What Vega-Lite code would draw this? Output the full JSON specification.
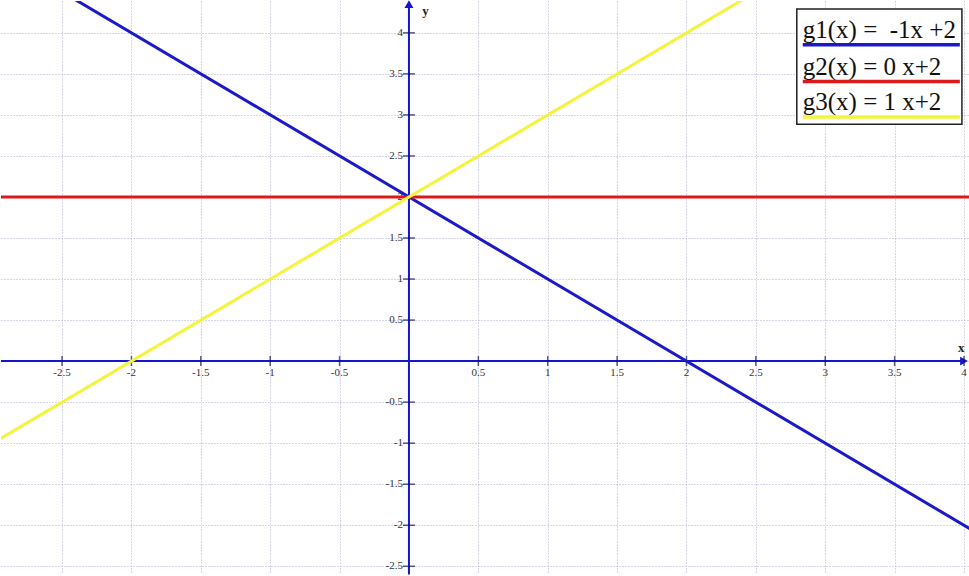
{
  "$schema": "https://vega.github.io/schema/vega-lite/v6.json",
  "width": 969,
  "height": 576,
  "autosize": {"type": "fit", "contains": "padding"},
  "padding": 0,
  "background": "white",
  "config": {"view": {"stroke": null}},
  "datasets": {
    "lines": [
      {"fn": "g1", "x": -3, "y": 5},
      {"fn": "g1", "x": 4.1, "y": -2.1},
      {"fn": "g2", "x": -3, "y": 2},
      {"fn": "g2", "x": 4.1, "y": 2},
      {"fn": "g3", "x": -3, "y": -1},
      {"fn": "g3", "x": 4.1, "y": 6.1}
    ],
    "axislines": [
      {"x": -2.94, "y": 0, "x2": 4.0, "y2": 0},
      {"x": 0, "y": -2.6, "x2": 0, "y2": 4.33}
    ],
    "arrows": [
      {"x": 4.0, "y": 0, "shape": "triangle-right"},
      {"x": 0, "y": 4.35, "shape": "triangle-up"}
    ],
    "xticks": [
      {"x": -2.5, "y": 0, "label": "-2.5"},
      {"x": -2, "y": 0, "label": "-2"},
      {"x": -1.5, "y": 0, "label": "-1.5"},
      {"x": -1, "y": 0, "label": "-1"},
      {"x": -0.5, "y": 0, "label": "-0.5"},
      {"x": 0.5, "y": 0, "label": "0.5"},
      {"x": 1, "y": 0, "label": "1"},
      {"x": 1.5, "y": 0, "label": "1.5"},
      {"x": 2, "y": 0, "label": "2"},
      {"x": 2.5, "y": 0, "label": "2.5"},
      {"x": 3, "y": 0, "label": "3"},
      {"x": 3.5, "y": 0, "label": "3.5"},
      {"x": 4, "y": 0, "label": "4"}
    ],
    "yticks": [
      {"x": 0, "y": -2.5, "label": "-2.5"},
      {"x": 0, "y": -2, "label": "-2"},
      {"x": 0, "y": -1.5, "label": "-1.5"},
      {"x": 0, "y": -1, "label": "-1"},
      {"x": 0, "y": -0.5, "label": "-0.5"},
      {"x": 0, "y": 0.5, "label": "0.5"},
      {"x": 0, "y": 1, "label": "1"},
      {"x": 0, "y": 1.5, "label": "1.5"},
      {"x": 0, "y": 2, "label": "2"},
      {"x": 0, "y": 2.5, "label": "2.5"},
      {"x": 0, "y": 3, "label": "3"},
      {"x": 0, "y": 3.5, "label": "3.5"},
      {"x": 0, "y": 4, "label": "4"}
    ],
    "axistitles": [
      {"x": 3.98, "y": 0.16, "label": "x"},
      {"x": 0.12, "y": 4.27, "label": "y"}
    ],
    "legendbox": [
      {"x": 2.795, "x2": 3.985, "y": 4.291, "y2": 2.885}
    ],
    "legend": [
      {"fn": "g1", "label": "g1(x) =\u00a0 -1x +2", "x": 2.838, "x2": 3.97, "y": 3.939, "uy": 3.855},
      {"fn": "g2", "label": "g2(x) = 0 x+2", "x": 2.838, "x2": 3.97, "y": 3.491, "uy": 3.406},
      {"fn": "g3", "label": "g3(x) = 1 x+2", "x": 2.838, "x2": 3.97, "y": 3.055, "uy": 2.975}
    ]
  },
  "encoding": {
    "x": {
      "field": "x",
      "type": "quantitative",
      "title": null,
      "scale": {"domain": [-2.94, 4.036], "nice": false, "zero": false},
      "axis": {
        "values": [-2.5, -2, -1.5, -1, -0.5, 0, 0.5, 1, 1.5, 2, 2.5, 3, 3.5, 4],
        "grid": true,
        "gridColor": "#aeaed6",
        "gridDash": [1, 2],
        "gridWidth": 1,
        "labels": false,
        "ticks": false,
        "domain": false
      }
    },
    "y": {
      "field": "y",
      "type": "quantitative",
      "title": null,
      "scale": {"domain": [-2.594, 4.388], "nice": false, "zero": false},
      "axis": {
        "values": [-2.5, -2, -1.5, -1, -0.5, 0, 0.5, 1, 1.5, 2, 2.5, 3, 3.5, 4],
        "grid": true,
        "gridColor": "#aeaed6",
        "gridDash": [1, 2],
        "gridWidth": 1,
        "labels": false,
        "ticks": false,
        "domain": false
      }
    }
  },
  "layer": [
    {
      "data": {"name": "axislines"},
      "mark": {"type": "rule", "color": "#1515cc", "strokeWidth": 2},
      "encoding": {"x2": {"field": "x2"}, "y2": {"field": "y2"}}
    },
    {
      "data": {"name": "arrows"},
      "mark": {"type": "point", "filled": true, "color": "#1515cc", "size": 80, "opacity": 1},
      "encoding": {"shape": {"field": "shape", "type": "nominal", "scale": null}}
    },
    {
      "data": {"name": "xticks"},
      "mark": {"type": "tick", "orient": "vertical", "size": 10, "thickness": 1.5, "color": "#10105a"}
    },
    {
      "data": {"name": "yticks"},
      "mark": {"type": "tick", "orient": "horizontal", "size": 12, "thickness": 1.5, "color": "#10105a"}
    },
    {
      "data": {"name": "xticks"},
      "mark": {"type": "text", "font": "Liberation Serif", "fontSize": 11, "color": "#333333", "align": "center", "baseline": "middle", "dy": 12},
      "encoding": {"text": {"field": "label"}}
    },
    {
      "data": {"name": "yticks"},
      "mark": {"type": "text", "font": "Liberation Serif", "fontSize": 11, "color": "#333333", "align": "right", "baseline": "middle", "dx": -6},
      "encoding": {"text": {"field": "label"}}
    },
    {
      "data": {"name": "axistitles"},
      "mark": {"type": "text", "font": "Liberation Serif", "fontSize": 13, "fontWeight": "bold", "color": "#222222", "align": "center", "baseline": "middle"},
      "encoding": {"text": {"field": "label"}}
    },
    {
      "data": {"name": "lines"},
      "mark": {"type": "line", "strokeWidth": 3, "clip": true},
      "encoding": {
        "color": {
          "field": "fn",
          "type": "nominal",
          "scale": {"domain": ["g1", "g2", "g3"], "range": ["#1a1ac8", "#dd1a1a", "#f4f43a"]},
          "legend": null
        }
      }
    },
    {
      "data": {"name": "legendbox"},
      "mark": {"type": "rect", "fill": "white", "stroke": "#222222", "strokeWidth": 1.5},
      "encoding": {"x2": {"field": "x2"}, "y2": {"field": "y2"}}
    },
    {
      "data": {"name": "legend"},
      "mark": {"type": "rule", "strokeWidth": 3.5},
      "encoding": {
        "y": {"field": "uy", "type": "quantitative"},
        "x2": {"field": "x2"},
        "color": {"field": "fn", "type": "nominal", "legend": null}
      }
    },
    {
      "data": {"name": "legend"},
      "mark": {"type": "text", "font": "Liberation Serif", "fontSize": 25, "color": "#111111", "align": "left", "baseline": "alphabetic"},
      "encoding": {"text": {"field": "label"}}
    }
  ]
}
